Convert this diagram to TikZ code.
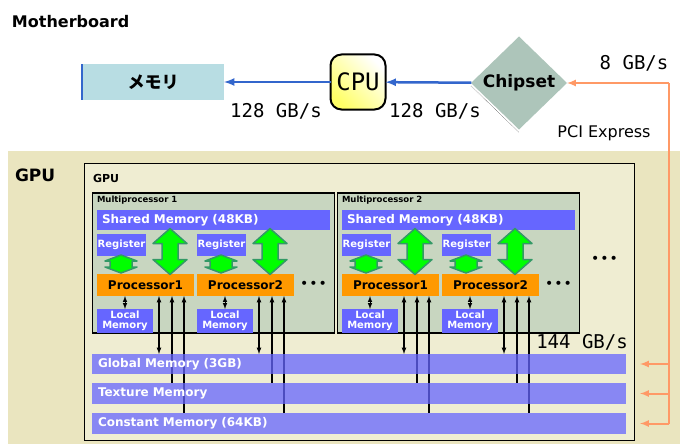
\documentclass[tikz,border=0pt]{standalone}
\usepackage{fontspec}
\setmainfont{DejaVu Sans}
\newfontfamily\jpfont{Noto Sans CJK JP}
\newfontfamily\pixfont{DejaVu Sans Mono}
\usetikzlibrary{shapes.geometric}

\definecolor{boardblue}{HTML}{B8DDE3}
\definecolor{linkblue}{HTML}{3366CC}
\definecolor{chipgray}{HTML}{ADC5BA}
\definecolor{pcieorange}{HTML}{FF9966}
\definecolor{gpuouter}{HTML}{EAE5BF}
\definecolor{gpuinner}{HTML}{EFEDD2}
\definecolor{smgray}{HTML}{C8D6C0}
\definecolor{memblue}{HTML}{6666FF}
\definecolor{procorange}{HTML}{FF9900}
\definecolor{arrowgreen}{HTML}{339966}
\definecolor{cpuyellow}{HTML}{FFFF66}

\begin{document}
\begin{tikzpicture}[x=1pt, y=-1pt, >=latex]
            \useasboundingbox (0,0) rectangle (680,444);
            \fill[gpuouter] (8,151) rectangle (680,444);

            {
                \tikzset{every node/.style = {inner sep=0pt, outer sep=0pt},
                    bluebox/.style = {fill=memblue, text=white, align=center, font=\bfseries\fontsize{10}{10}\selectfont},
                    procbox/.style = {fill=procorange, minimum width=97pt, minimum height=22pt, font=\bfseries\fontsize{12}{12}\selectfont},
                    barbox/.style = {fill=memblue, fill opacity=.75, text opacity=1, text=white, minimum height=21pt,
                        text width=522pt, inner xsep=6pt, align=left, font=\bfseries\fontsize{12}{12}\selectfont},
                    rate/.style = {font=\pixfont\fontsize{19}{19}\selectfont},
                    biggreen/.pic = {\draw[arrowgreen, fill=green, line width=1.5pt, line join=round]
                        (0,-23) -- (17,-8) -- (8,-8) -- (8,8) -- (17,8) -- (0,23) -- (-17,8) -- (-8,8) -- (-8,-8) -- (-17,-8) -- cycle;},
                    smallgreen/.pic = {\draw[arrowgreen, fill=green, line width=1.5pt, line join=round]
                        (0,-9) -- (16,-3) -- (11,-3) -- (11,3) -- (16,3) -- (0,9) -- (-16,3) -- (-11,3) -- (-11,-3) -- (-16,-3) -- cycle;}}

                % motherboard
                \node[anchor=west, font=\bfseries\fontsize{16}{16}\selectfont] (mb) at (12,22) {Motherboard};
                \node[fill=boardblue, minimum width=142pt, minimum height=35pt, font=\jpfont\bfseries\fontsize{17}{17}\selectfont] (mem) at (153,82) {メモリ};
                \node[draw, line width=2pt, rounded corners=11pt, left color=cpuyellow, right color=white, shading angle=135,
                    minimum width=55pt, minimum height=55pt, font=\pixfont\fontsize{24}{24}\selectfont] (cpu) at (358,82) {CPU};
                \node[diamond, fill=chipgray, minimum width=96pt, minimum height=93pt, font=\bfseries\fontsize{17}{17}\selectfont] (chip) at (519,83) {Chipset};
                \node[rate] (r1) at (276,111) {128 GB/s};
                \node[rate] (r2) at (435,111) {128 GB/s};
                \node[rate] (r3) at (634,63) {8 GB/s};
                \node[font=\fontsize{16}{16}\selectfont] (pci) at (604,133) {PCI Express};
                \coordinate (pcie) at (669,83);

                % gpu
                \node[anchor=west, font=\bfseries\fontsize{17}{17}\selectfont] (gpulabel) at (15,175) {GPU};
                \node[draw, line width=1pt, fill=gpuinner, anchor=north west, minimum width=550pt, minimum height=277pt] (gpu) at (84,163) {};
                \node[anchor=west, font=\bfseries\fontsize{11}{11}\selectfont] (gpuname) at (93,178) {GPU};

                \foreach \i/\ox in {1/92, 2/337} {
                    \node[draw, line width=1.5pt, fill=smgray, minimum width=242pt, minimum height=140pt] (sm\i) at (\ox+121.5,263) {};
                    \node[anchor=west, font=\bfseries\fontsize{8.5}{8.5}\selectfont] (smname\i) at (\ox+5,200) {Multiprocessor \i};
                    \node[bluebox, minimum width=233pt, minimum height=20pt, text width=223pt, inner xsep=5pt, align=left,
                        font=\bfseries\fontsize{12}{12}\selectfont] (shared\i) at (\ox+121.5,220) {Shared Memory (48KB)};
                    \foreach \p/\dx/\n in {a/0/1, b/100/2} {
                        \node[bluebox, minimum width=49pt, minimum height=22pt] (reg\i\p) at (\ox+\dx+29.5,245) {Register};
                        \node[procbox] (proc\i\p) at (\ox+\dx+53.5,285) {Processor\n};
                        \node[bluebox, minimum width=56pt, minimum height=24pt] (loc\i\p) at (\ox+\dx+33,321) {Local\\Memory};
                        \pic at (\ox+\dx+29,264) {smallgreen};
                        \pic at (\ox+\dx+78,251.5) {biggreen};
                        \draw[<->, line width=1pt] (loc\i\p.north) -- (loc\i\p.north |- proc\i\p.south);
                        \coordinate (in\i\p1) at ([xshift=13.5pt]proc\i\p.south);
                        \coordinate (in\i\p2) at ([xshift=26.5pt]proc\i\p.south);
                        \coordinate (in\i\p3) at ([xshift=38.5pt]proc\i\p.south);
                    }
                    \node[font=\fontsize{14}{14}\selectfont] (dots\i) at (\ox+221.5,285) {•\hspace{1pt}•\hspace{1pt}•};
                }
                \node[font=\fontsize{14}{14}\selectfont] (dots) at (604.5,260) {•\hspace{1pt}•\hspace{1pt}•};
                \node[rate] (r4) at (582,342) {144 GB/s};

                \coordinate (globtop) at (92,354);
                \coordinate (textop) at (92,383);
                \coordinate (consttop) at (92,413);
                \foreach \i in {1,2} {
                    \foreach \p in {a,b} {
                        \draw[<->, line width=1.2pt] (in\i\p1 |- globtop) -- (in\i\p1);
                        \draw[->, line width=1.2pt] (in\i\p2 |- textop) -- (in\i\p2);
                        \draw[->, line width=1.2pt] (in\i\p3 |- consttop) -- (in\i\p3);
                    }
                }

                \node[barbox, minimum height=20pt] (glob) at (359,364) {Global Memory (3GB)};
                \node[barbox] (tex) at (359,393.5) {Texture Memory};
                \node[barbox] (const) at (359,423.5) {Constant Memory (64KB)};
            }

            \draw[linkblue, line width=1.5pt] (mem.north west) -- (mem.south west);
            \draw[densely dotted] ([yshift=-3pt]chip.west) -- ([yshift=-3pt]chip.south);
            \draw[linkblue, line width=2.5pt] (cpu) edge[->] (mem) (chip) edge[->] (cpu);
            \draw[pcieorange, line width=2pt] (pcie) edge[->] (chip) (pcie) -- (pcie |- const);
            \draw[pcieorange, line width=2pt, shorten >=14pt] (pcie |- glob) edge[->] (glob) (pcie |- tex) edge[->] (tex) (pcie |- const) edge[->] (const);

        \end{tikzpicture}
\end{document}
